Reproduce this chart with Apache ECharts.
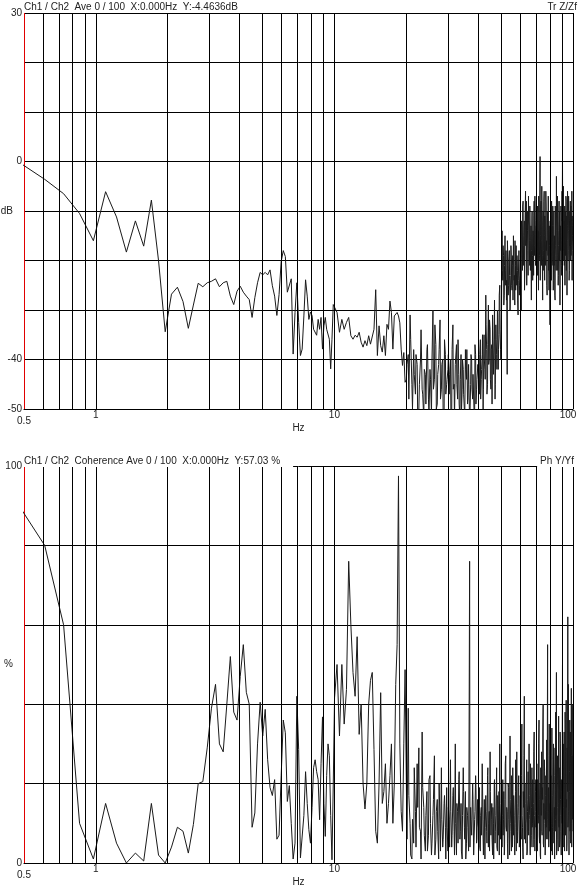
<!DOCTYPE html>
<html>
<head>
<meta charset="utf-8">
<script src="https://cdn.jsdelivr.net/npm/echarts@6/dist/echarts.min.js"></script>
<style>
    html, body { margin: 0; padding: 0; background: #fff; }
    #chart { width: 579px; height: 890px; }
</style>
</head>
<body>
<div id="chart"></div>
<script>
// FFT line spacing (Hz) and first line drawn
const binWidth = 0.1221
const startBin = 4
// vertical grid lines (Hz) and labelled ticks
const gridFreqs = [0.6, 0.7, 0.8, 0.9, 1, 2, 3, 4, 5, 6, 7, 8, 9, 10, 20, 30, 40, 50, 60, 70, 80, 90, 100]
const freqLabels = [0.5, 1, 10, 100]
const magLabels = [30, 0, -40, -50]
const cohLabels = [100, 0]

// transfer function magnitude (dB): lines 4..81
const magLow = [
    -0.5, -3.6, -6.5, -10.5, -16.0, -6.1, -11.2, -18.3, -12.0, -17.1, -7.8, -20, -34.4, -26.8, -25.4, -28.3, -33.7, -29.0, -24.6, -25.3, -24.5,
    -24.2, -23.7, -25.3, -24.5, -24.2, -27.2, -28.9, -26.2, -25.2, -26.4, -27.2, -27.9, -31.5, -27.5, -24.5, -22.4, -22.9, -22.4, -22.9, -21.9,
    -25.1, -27.2, -31.1, -26.9, -20.2, -18.0, -19.2, -26.4, -26.7, -23.7, -38.9, -30.5, -24.5, -32.5, -39.2, -37.9, -31.2, -23.9, -27.2, -31.9,
    -30.4, -31.1, -33.9, -33.5, -35.1, -31.9, -33.9, -31.5, -37.9, -33.2, -31.5, -33.9, -33.5, -35.9, -41.9, -35.9, -28.9
]
// lines 82..162, every 2nd
const magMid = [
    -29.2, -30.5, -34.5, -31.9, -33.9, -32.5, -31.5, -35.2, -35.9, -35.1,
    -35.5, -34.5, -36.5, -37.5, -36.2, -37.2, -35.2, -36.9, -37.2, -33.9,
    -25.9, -39.2, -33.2, -37.2, -38.5, -35.2, -39.2, -32.9, -33.9, -28.2,
    -30.5, -37.9, -31.2, -30.9, -30.5, -31.2, -32.6, -37.9, -41.2, -38.6, -44.6
]
// lines 164, 167, ... 818
const magHigh = [
    -44, -39, -31, -45, -38, -47, -41, -50, -40, -46, -52, -43, -38, -48, -42, -51, -30, -44, -37, -49, -41, -32, -46, -40, -52, -39, -45, -42,
    -47, -40, -51, -33, -45, -41, -37, -48, -43, -52, -39, -46, -42, -50, -38, -44, -49, -41, -53, -45, -40, -48, -43, -51, -39, -46, -44,
    -41, -47, -36, -44, -39, -50, -35, -42, -27, -38, -45, -29, -40, -34, -46, -37, -31, -43, -36, -48, -33, -39, -30, -42, -35, -25, -38, -32,
    -14, -24, -19, -27, -15, -22, -28, -43, -21, -25, -18, -30, -23, -20, -26, -19, -15, -24, -29, -21, -17, -25, -22, -31, -20, -27, -23,
    -19, -30, -14, -22, -8, -17, -12, -20, -6, -15, -25, -10, -18, -7, -13, -21, -9, -16, -28, -11, -19, -14, -23, -8, -17, -12, -20,
    -13, -22, -9, -17, -26, -11, -19, 1, -15, -8, -21, -12, -28, -10, -18, -6, -24, -14, -20, -9, -16, -27, -12, -19, -22, -26, -17,
    -33, -18, -11, -24, -15, -20, -9, -26, -13, -21, -16, -28, -10, -19, -3, -14, -22, -12, -25, -17, -8, -20, -29, -13, -18, -11, -23,
    -6, 0, -14, -9, -20, -12, -17, -25, -10, -15, -8, -19, -27, -13, -11, -18, -7, -16, -22, -10, -14, -20, -9, -17, -12, -24, -15, -11
]
// lines 165, 168, ... 819
const magHighB = [
    -41, -48, -36, -50, -43, -39, -52, -45, -34, -47, -42, -49, -37, -51, -44, -40, -46, -33, -50, -43, -38, -48, -41, -53, -36, -47, -44, -39,
    -43, -50, -38, -46, -52, -41, -45, -36, -49, -44, -51, -40, -47, -53, -42, -38, -48, -45, -51, -39, -46, -43, -50, -37, -49, -44, -41,
    -45, -39, -48, -42, -35, -46, -40, -44, -33, -47, -37, -41, -32, -44, -38, -49, -34, -40, -28, -45, -36, -42, -31, -38, -27, -34, -40, -29,
    -22, -17, -29, -21, -25, -18, -24, -16, -27, -20, -23, -29, -17, -25, -21, -28, -19, -23, -16, -26, -22, -19, -28, -24, -18, -25, -21,
    -24, -12, -18, -9, -21, -15, -26, -11, -17, -8, -20, -14, -23, -12, -16, -9, -22, -13, -18, -10, -24, -15, -11, -19, -7, -21, -14,
    -17, -10, -23, -14, -7, -20, -12, -24, -9, -16, -5, -19, -13, -22, -8, -15, -11, -21, -6, -18, -25, -10, -14, -7, -20, -13, -23,
    -12, -26, -16, -8, -21, -13, -18, -24, -10, -15, -27, -9, -17, -22, -11, -20, -7, -16, -23, -14, -19, -10, -25, -15, -9, -21, -16,
    -12, -8, -18, -5, -15, -21, -9, -13, -19, -7, -22, -11, -16, -6, -20, -14, -9, -24, -12, -17, -8, -15, -19, -11, -6, -18, -13, -16
]

// coherence (%): lines 4..81
const cohLow = [
    89, 80, 60, 10, 1, 15, 5, 0, 2.5, 0.5, 15, 2, 0, 4, 9, 8, 2.5,
    9.7, 20, 20.5, 29, 39, 45, 30, 28, 40, 52, 38, 36, 47, 55, 43, 40, 9, 12.6, 30, 40.5,
    32, 38.7, 26, 19, 17, 21, 6, 7, 22, 36, 32.8, 15.5, 19.5, 10, 1, 5, 42, 28.6, 1.3, 1.7,
    12, 23, 15, 8.4, 5, 14, 24, 26, 23, 21, 10.9, 25, 36.8, 15, 6.7, 22, 30, 27, 12, 0.8, 20
]
// lines 82..162, every 2nd
const cohMid = [
    41.6, 50, 32, 50, 35, 43.7, 76, 60, 48, 42,
    57, 32.4, 40, 20, 13.6, 20, 40, 46, 48, 28.6,
    8, 5, 20, 42.9, 15, 18, 25, 10, 15, 22,
    30, 10, 20, 45, 55, 97.5, 30, 13, 8, 30, 48.7
]
// lines 164, 167, ... 818
const cohHigh = [
    20, 39, 10, 1, 5, 13, 25, 29, 8, 33, 14, 3, 18, 7, 22, 2, 12, 27, 6, 16, 1, 10, 24, 4, 15, 9, 19, 3,
    11, 26, 4, 17, 8, 30, 2, 13, 21, 6, 15, 1, 24, 9, 18, 5, 12, 3, 76, 14, 7, 20, 2, 11, 22, 5, 16,
    9, 19, 3, 14, 25, 6, 11, 1, 17, 8, 22, 4, 13, 28, 7, 15, 2, 10, 20, 5, 12, 24, 3, 9, 18, 30, 6, 13,
    4, 21, 11, 2, 16, 27, 8, 13, 1, 19, 6, 32, 10, 3, 15, 24, 7, 12, 2, 18, 9, 28, 5, 14, 22, 4, 11,
    17, 6, 35, 9, 1, 14, 42, 20, 5, 11, 26, 3, 16, 8, 30, 12, 2, 19, 7, 24, 10, 4, 15, 33, 6, 13, 21,
    9, 25, 3, 18, 12, 36, 5, 20, 1, 14, 28, 7, 16, 40, 4, 11, 23, 2, 17, 9, 31, 13, 55, 6, 19, 27, 8,
    15, 4, 22, 10, 34, 2, 17, 26, 8, 13, 1, 29, 11, 19, 48, 5, 24, 14, 3, 37, 9, 20, 6, 30, 12, 2, 18,
    10, 50, 7, 24, 14, 33, 3, 19, 28, 9, 41, 16, 5, 22, 62, 12, 30, 2, 18, 36, 8, 25, 13, 44, 4, 20, 11, 27
]
// lines 165, 168, ... 819
const cohHighB = [
    6, 17, 2, 11, 24, 4, 14, 9, 1, 19, 7, 12, 3, 21, 10, 5, 16, 2, 13, 8, 20, 3, 11, 6, 17, 1, 9, 14,
    4, 13, 7, 19, 2, 10, 15, 5, 23, 8, 3, 12, 18, 6, 1, 14, 9, 20, 4, 11, 7, 16, 2, 13, 19, 6, 10,
    15, 4, 12, 7, 20, 2, 16, 9, 13, 5, 24, 10, 3, 18, 11, 6, 14, 1, 21, 8, 12, 4, 17, 7, 2, 15, 10, 19,
    12, 7, 18, 3, 25, 9, 14, 5, 20, 11, 2, 16, 8, 22, 4, 13, 17, 6, 10, 26, 3, 15, 8, 19, 12, 5, 17,
    8, 22, 12, 4, 18, 27, 6, 15, 10, 20, 2, 13, 23, 7, 17, 11, 25, 4, 14, 9, 21, 6, 28, 12, 3, 18, 9,
    14, 5, 21, 10, 30, 7, 16, 2, 24, 12, 8, 19, 33, 5, 15, 26, 10, 3, 22, 13, 6, 28, 11, 18, 4, 35, 14,
    7, 20, 13, 3, 26, 9, 17, 30, 5, 14, 22, 8, 38, 12, 2, 19, 27, 6, 15, 10, 24, 4, 33, 16, 8, 21, 12,
    22, 9, 16, 30, 4, 20, 12, 38, 7, 25, 14, 3, 29, 18, 9, 45, 13, 6, 23, 16, 33, 5, 19, 27, 10, 40, 15, 8
]

// pair each value with the frequency of its FFT line
function toPairs(low, mid, high, highB) {
    let pts = []
    low.forEach((v, i) => pts.push([(startBin + i) * binWidth, v]))
    mid.forEach((v, i) => pts.push([(82 + 2 * i) * binWidth, v]))
    high.forEach((v, i) => pts.push([(164 + 3 * i) * binWidth, v]))
    highB.forEach((v, i) => pts.push([(165 + 3 * i) * binWidth, v]))
    return pts.sort((a, b) => a[0] - b[0])
}

const font = '"Liberation Sans", Arial, sans-serif'
const textColor = '#222'

function near(a, b) {
    return Math.abs(a - b) < 1e-6
}

function freqAxis(gridIndex) {
    return {
        type: 'log',
        logBase: 10,
        gridIndex: gridIndex,
        min: 0.5,
        max: 100,
        name: 'Hz',
        nameLocation: 'middle',
        nameGap: 14,
        nameMoveOverlap: false,
        nameTextStyle: { color: textColor, fontSize: 10, fontFamily: font },
        axisLine: { show: true, onZero: false, lineStyle: { color: '#000', width: 1 } },
        axisTick: { show: false },
        splitLine: { show: false },
        axisLabel: {
            margin: 1,
            showMinLabel: true,
            showMaxLabel: true,
            hideOverlap: false,
            color: textColor,
            fontSize: 10,
            fontFamily: font,
            formatter: function (value) {
                let hit = freqLabels.find((f) => near(f, value))
                if (hit === undefined) return ''
                if (hit === 0.5) return '{lo|0.5}'
                if (hit === 100) return '{hi|100}'
                return String(hit)
            },
            rich: {
                lo: { padding: [6, 0, 0, 0], fontSize: 10, fontFamily: font, color: textColor },
                hi: { padding: [0, 10, 0, 0], fontSize: 10, fontFamily: font, color: textColor }
            }
        }
    }
}

function levelAxis(gridIndex, min, max, interval, name, labels) {
    return {
        type: 'value',
        gridIndex: gridIndex,
        min: min,
        max: max,
        interval: interval,
        name: name,
        nameLocation: 'middle',
        nameRotate: 0,
        nameGap: 11,
        nameMoveOverlap: false,
        nameTextStyle: { color: textColor, fontSize: 10, fontFamily: font, align: 'right' },
        axisLine: { show: true, onZero: false, lineStyle: { color: '#e00000', width: 1 } },
        axisTick: { show: false },
        splitLine: { show: true, lineStyle: { color: '#000', width: 1 } },
        axisLabel: {
            margin: 2,
            color: textColor,
            fontSize: 10,
            fontFamily: font,
            formatter: (v) => (labels.includes(v) ? String(v) : '')
        }
    }
}

// empty series that only carries the vertical decade grid
function gridLines(index) {
    return {
        type: 'line',
        xAxisIndex: index,
        yAxisIndex: index,
        data: [],
        z: 1,
        silent: true,
        markLine: {
            silent: true,
            symbol: ['none', 'none'],
            label: { show: false },
            lineStyle: { color: '#000', width: 1, type: 'solid' },
            emphasis: { disabled: true },
            data: gridFreqs.map((f) => ({ xAxis: f }))
        }
    }
}

function trace(index, data) {
    return {
        type: 'line',
        xAxisIndex: index,
        yAxisIndex: index,
        data: data,
        z: 3,
        showSymbol: false,
        clip: true,
        silent: true,
        lineStyle: { color: '#1a1a1a', width: 1 }
    }
}

function heading(text, pos, top, padding) {
    return Object.assign({
        text: text,
        top: top,
        padding: padding,
        backgroundColor: '#fff',
        textStyle: { fontSize: 10, fontWeight: 'normal', color: textColor, fontFamily: font, lineHeight: 12 }
    }, pos)
}

let myChart = echarts.init(document.getElementById('chart'))
let option = {
    animation: false,
    backgroundColor: '#fff',
    title: [
        heading('Ch1 / Ch2  Ave 0 / 100  X:0.000Hz  Y:-4.4636dB', { left: 24 }, 0, [1, 9, 0, 0]),
        heading('Tr Z/Zf', { right: 2 }, 0, [1, 0, 0, 2]),
        heading('Ch1 / Ch2  Coherence Ave 0 / 100  X:0.000Hz  Y:57.03 %', { left: 24 }, 454, [1, 13, 0, 0]),
        heading('Ph Y/Yf', { right: 5 }, 454, [1, 0, 0, 3])
    ],
    grid: [
        { left: 24, top: 13, width: 549, height: 396, outerBoundsMode: 'none' },
        { left: 24, top: 466, width: 549, height: 397, outerBoundsMode: 'none' }
    ],
    xAxis: [freqAxis(0), freqAxis(1)],
    yAxis: [
        levelAxis(0, -50, 30, 10, 'dB', magLabels),
        levelAxis(1, 0, 100, 20, '%', cohLabels)
    ],
    series: [
        gridLines(0),
        gridLines(1),
        trace(0, toPairs(magLow, magMid, magHigh, magHighB)),
        trace(1, toPairs(cohLow, cohMid, cohHigh, cohHighB))
    ]
}

option && myChart.setOption(option)
</script>
</body>
</html>
